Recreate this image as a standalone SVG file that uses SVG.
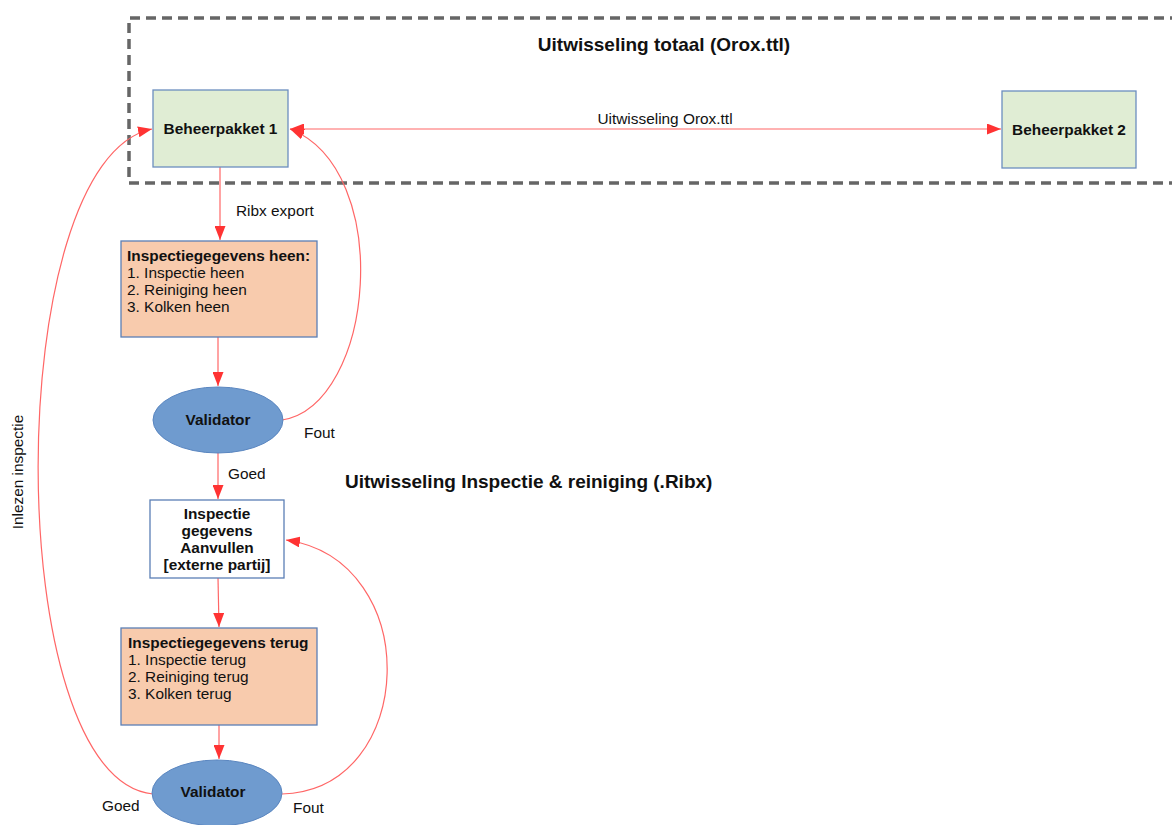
<svg xmlns="http://www.w3.org/2000/svg" width="1172" height="825" viewBox="0 0 1172 825">
<style>
text{font-family:"Liberation Sans",Arial,sans-serif;fill:#111;}
.b{font-weight:bold;}
.t{font-size:15.4px;}
.h{font-size:19px;font-weight:bold;}
.green{fill:#e0edd4;stroke:#6c8ebf;stroke-width:1.3;}
.orange{fill:#f8cbad;stroke:#5b7fb5;stroke-width:1.3;}
.white{fill:#fff;stroke:#5b7fb5;stroke-width:1.3;}
.ell{fill:#6f9bcf;stroke:#5a86c0;stroke-width:1;}
.c{fill:none;stroke:#ff6666;stroke-width:1.2;}
</style>
<defs>
<marker id="a" viewBox="0 0 14 11" refX="14" refY="5.5" markerWidth="14" markerHeight="11" markerUnits="userSpaceOnUse" orient="auto-start-reverse">
<path d="M0,0 L14,5.5 L0,11 Z" fill="#ff3333"/>
</marker>
</defs>
<rect x="0" y="0" width="1172" height="825" fill="#fff"/>
<g id="frame">
<path d="M1180,18 L129,18 L129,183 L1180,183" fill="none" stroke="#666" stroke-width="3.5" stroke-dasharray="10,6"/>
<text class="h" x="664" y="51" text-anchor="middle">Uitwisseling totaal (Orox.ttl)</text>
</g>
<text class="h" x="345" y="488">Uitwisseling Inspectie &amp; reiniging (.Ribx)</text>
<g id="connectors">
<path class="c" d="M290,129 L1001,129" marker-start="url(#a)" marker-end="url(#a)"/>
<text class="t" x="665" y="124" text-anchor="middle">Uitwisseling Orox.ttl</text>
<path class="c" d="M220,167 L220,240" marker-end="url(#a)"/>
<text class="t" x="236" y="216">Ribx export</text>
<path class="c" d="M218,337 L218,386" marker-end="url(#a)"/>
<path class="c" d="M282,420 C375,405 395,170 290,129" marker-end="url(#a)"/>
<text class="t" x="304" y="438">Fout</text>
<path class="c" d="M218,453 L218,499" marker-end="url(#a)"/>
<text class="t" x="228" y="479">Goed</text>
<path class="c" d="M218,578 L219,627" marker-end="url(#a)"/>
<path class="c" d="M219,725 L219,759" marker-end="url(#a)"/>
<path class="c" d="M282,794 C418,790 425,560 286,540" marker-end="url(#a)"/>
<text class="t" x="293" y="813">Fout</text>
<path class="c" d="M153,794 C0,780 0,160 152,129" marker-end="url(#a)"/>
<text class="t" x="102" y="811">Goed</text>
<text class="t" transform="translate(23,472) rotate(-90)" text-anchor="middle">Inlezen inspectie</text>
</g>
<g id="bp1">
<rect class="green" x="153" y="90" width="135" height="77"/>
<text class="t b" x="220.5" y="134" text-anchor="middle">Beheerpakket 1</text>
</g>
<g id="bp2">
<rect class="green" x="1002" y="91" width="134" height="77"/>
<text class="t b" x="1069" y="135" text-anchor="middle">Beheerpakket 2</text>
</g>
<g id="heen">
<rect class="orange" x="121" y="241" width="196" height="96"/>
<text class="t" x="127" y="261"><tspan class="b">Inspectiegegevens heen:</tspan><tspan x="127" dy="17">1. Inspectie heen</tspan><tspan x="127" dy="17">2. Reiniging heen</tspan><tspan x="127" dy="17">3. Kolken heen</tspan></text>
</g>
<g id="val1">
<ellipse class="ell" cx="218" cy="420" rx="65" ry="33"/>
<text class="t b" x="218" y="425" text-anchor="middle">Validator</text>
</g>
<g id="aanvullen">
<rect class="white" x="150" y="500" width="134" height="78"/>
<text class="t b" x="217" y="519" text-anchor="middle"><tspan x="217">Inspectie</tspan><tspan x="217" dy="17">gegevens</tspan><tspan x="217" dy="17">Aanvullen</tspan><tspan x="217" dy="17">[externe partij]</tspan></text>
</g>
<g id="terug">
<rect class="orange" x="121" y="628" width="196" height="97"/>
<text class="t" x="128" y="648"><tspan class="b">Inspectiegegevens terug</tspan><tspan x="128" dy="17">1. Inspectie terug</tspan><tspan x="128" dy="17">2. Reiniging terug</tspan><tspan x="128" dy="17">3. Kolken terug</tspan></text>
</g>
<g id="val2">
<ellipse class="ell" cx="217" cy="793" rx="65" ry="33"/>
<text class="t b" x="213" y="797" text-anchor="middle">Validator</text>
</g>
</svg>
